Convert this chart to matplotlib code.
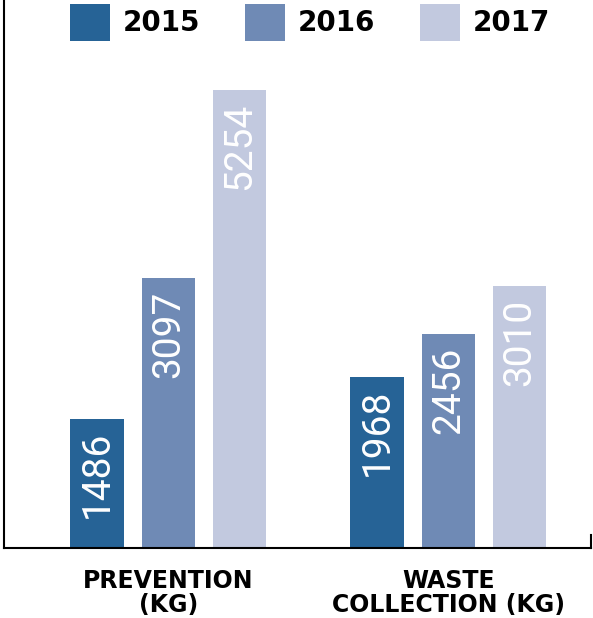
import matplotlib
matplotlib.use("Agg")
import matplotlib.pyplot as plt
import numpy as np
from matplotlib.patches import Patch

categories = ["PREVENTION\n(KG)", "WASTE\nCOLLECTION (KG)"]
years = ["2015", "2016", "2017"]
values = {
    "2015": [1486, 1968],
    "2016": [3097, 2456],
    "2017": [5254, 3010],
}
colors = ["#266396", "#6f8ab5", "#c2c9df"]

fig = plt.figure(figsize=(5.93, 6.18), dpi=100)
ax = fig.add_axes([4/593, 70/618, 587/593, 548/618])

x = np.arange(len(categories))
offsets = [-0.255, 0.0, 0.255]
width = 0.19
for yr, off, c in zip(years, offsets, colors):
    bars = ax.bar(x + off, values[yr], width=width, color=c, zorder=2)
    for b, v in zip(bars, values[yr]):
        ax.annotate(str(v), (b.get_x() + b.get_width()/2, b.get_height()),
                    xytext=(0, -9), textcoords="offset points",
                    rotation=90, ha="center", va="top", color="white",
                    fontsize=28, fontweight="normal",
                    family=["Roboto", "DejaVu Sans"])

ax.set_xlim(-0.5875, 1.509)
ax.set_ylim(0, 6292)
ax.set_yticks([])
ax.set_xticks(x)
ax.set_xticklabels(categories, fontsize=17, fontweight="bold",
                   family="DejaVu Sans", linespacing=1.0)
ax.tick_params(axis="x", length=0, pad=15)
ax.spines["top"].set_visible(False)
ax.spines["right"].set_bounds(0, 150)
for s in ["left", "bottom", "right"]:
    ax.spines[s].set_linewidth(1.5)
    ax.spines[s].set_color("black")

handles = [Patch(facecolor=c, edgecolor="none") for c in colors]
fig.legend(handles, years, loc="upper left", bbox_to_anchor=(70/593, 1 - 4/618),
           ncol=3, frameon=False, prop={"family": "DejaVu Sans", "weight": "bold", "size": 20},
           handlelength=1.44, handleheight=1.65, handletextpad=0.47,
           columnspacing=1.6, borderpad=0, borderaxespad=0)

fig.savefig("out.png", dpi=100)
